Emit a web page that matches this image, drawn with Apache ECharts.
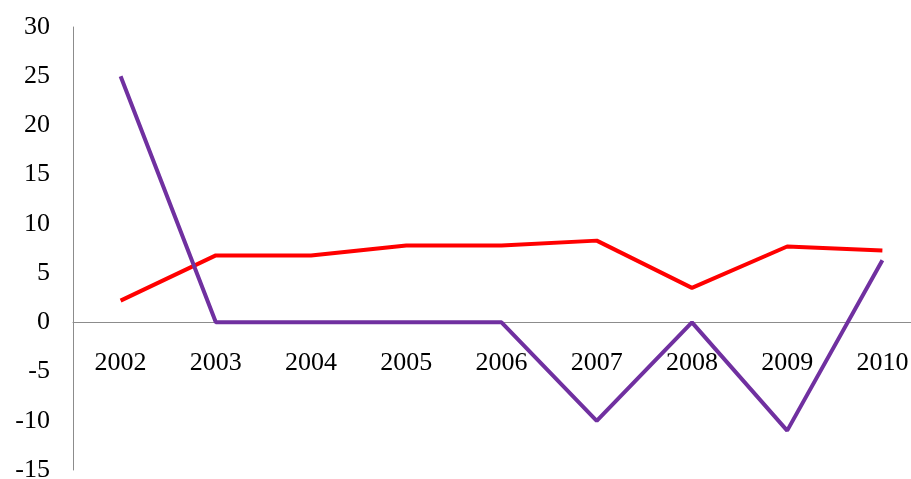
<!DOCTYPE html>
<html lang="en">
<head>
    <meta charset="UTF-8">
    <title>line chart</title>
    <script src="https://cdn.jsdelivr.net/npm/echarts@6/dist/echarts.min.js"></script>
    <style>
        html, body { margin: 0; padding: 0; background: #fff; }
    </style>
</head>
<body>
<div id="main" style="width: 911px;height:479px;"></div>
<script type="text/javascript">
    var years = ['2002', '2003', '2004', '2005', '2006', '2007', '2008', '2009', '2010'];
    var redValues = [2.2, 6.8, 6.8, 7.8, 7.8, 8.3, 3.5, 7.7, 7.3];
    var purpleValues = [25, 0, 0, 0, 0, -10, 0, -11, 6.3];

    var myChart = echarts.init(document.getElementById('main'));
    myChart.setOption({
        animation: false,
        grid: {
            left: 73,
            top: 27,
            width: 857,   // 最右一格被裁掉一部分
            height: 443,
            outerBoundsMode: 'none'
        },
        xAxis: {
            type: 'category',
            data: years,
            boundaryGap: true,
            position: 'bottom',
            offset: -148,  // 把横轴连同标签移到 0 的位置
            axisLine: { onZero: false, lineStyle: { color: '#8c8c8c', width: 1 } },
            axisTick: { show: false },
            axisLabel: {
                interval: 0,
                margin: 28,
                color: '#000',
                fontFamily: 'Liberation Serif',
                fontSize: 26
            }
        },
        yAxis: {
            type: 'value',
            min: -15,
            max: 30,
            interval: 5,
            splitLine: { show: false },
            axisLine: { show: true, lineStyle: { color: '#8c8c8c', width: 1 } },
            axisTick: { show: false },
            axisLabel: {
                margin: 23,
                color: '#000',
                fontFamily: 'Liberation Serif',
                fontSize: 26
            }
        },
        series: [{
            type: 'line',
            data: redValues,
            symbol: 'none',
            lineStyle: { color: '#ff0000', width: 4 },
            itemStyle: { color: '#ff0000' }
        }, {
            type: 'line',
            data: purpleValues,
            symbol: 'none',
            lineStyle: { color: '#7030a0', width: 4 },
            itemStyle: { color: '#7030a0' }
        }]
    });
</script>
</body>
</html>
